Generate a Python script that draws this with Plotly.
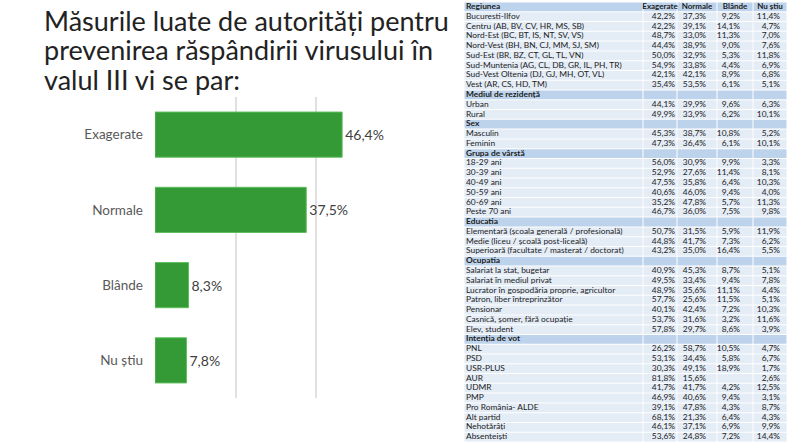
import plotly.graph_objects as go

# ---------------- Bar chart data ----------------
categories = ["Exagerate", "Normale", "Blânde", "Nu știu"]
values = [46.4, 37.5, 8.3, 7.8]
bar_labels = [f"{v:.1f}%".replace(".", ",") for v in values]

title_lines = ["Măsurile luate de autorități pentru",
               "prevenirea răspândirii virusului în",
               "valul III vi se par:"]

# ---------------- Table data ----------------
table_header = ["Regiunea", "Exagerate", "Normale", "Blânde", "Nu știu"]

row_labels = [
    "Bucuresti-Ilfov", "Centru (AB, BV, CV, HR, MS, SB)", "Nord-Est (BC, BT, IS, NT, SV, VS)",
    "Nord-Vest (BH, BN, CJ, MM, SJ, SM)", "Sud-Est (BR, BZ, CT, GL, TL, VN)",
    "Sud-Muntenia (AG, CL, DB, GR, IL, PH, TR)", "Sud-Vest Oltenia (DJ, GJ, MH, OT, VL)",
    "Vest (AR, CS, HD, TM)",
    "Mediul de rezidență", "Urban", "Rural",
    "Sex", "Masculin", "Feminin",
    "Grupa de vârstă", "18-29 ani", "30-39 ani", "40-49 ani", "50-59 ani", "60-69 ani", "Peste 70 ani",
    "Educatia", "Elementară (școala generală / profesională)", "Medie (liceu / școală post-liceală)",
    "Superioară (facultate / masterat / doctorat)",
    "Ocupatia", "Salariat la stat, bugetar", "Salariat în mediul privat",
    "Lucrator în gospodăria proprie, agricultor", "Patron, liber întreprinzător", "Pensionar",
    "Casnică, șomer, fără ocupație", "Elev, student",
    "Intenția de vot", "PNL", "PSD", "USR-PLUS", "AUR", "UDMR", "PMP", "Pro România- ALDE",
    "Alt partid", "Nehotărâți", "Absenteiști",
]
exagerate = [42.2, 42.2, 48.7, 44.4, 50.0, 54.9, 42.1, 35.4,
             None, 44.1, 49.9,
             None, 45.3, 47.3,
             None, 56.0, 52.9, 47.5, 40.6, 35.2, 46.7,
             None, 50.7, 44.8, 43.2,
             None, 40.9, 49.5, 48.9, 57.7, 40.1, 53.7, 57.8,
             None, 26.2, 53.1, 30.3, 81.8, 41.7, 46.9, 39.1, 68.1, 46.1, 53.6]
normale = [37.3, 39.1, 33.0, 38.9, 32.9, 33.8, 42.1, 53.5,
           None, 39.9, 33.9,
           None, 38.7, 36.4,
           None, 30.9, 27.6, 35.8, 46.0, 47.8, 36.0,
           None, 31.5, 41.7, 35.0,
           None, 45.3, 33.4, 35.6, 25.6, 42.4, 31.6, 29.7,
           None, 58.7, 34.4, 49.1, 15.6, 41.7, 40.6, 47.8, 21.3, 37.1, 24.8]
blande = [9.2, 14.1, 11.3, 9.0, 5.3, 4.4, 8.9, 6.1,
          None, 9.6, 6.2,
          None, 10.8, 6.1,
          None, 9.9, 11.4, 6.4, 9.4, 5.7, 7.5,
          None, 5.9, 7.3, 16.4,
          None, 8.7, 9.4, 11.1, 11.5, 7.2, 3.2, 8.6,
          None, 10.5, 5.8, 18.9, None, 4.2, 9.4, 4.3, 6.4, 6.9, 7.2]
nu_stiu = [11.4, 4.7, 7.0, 7.6, 11.8, 6.9, 6.8, 5.1,
           None, 6.3, 10.1,
           None, 5.2, 10.1,
           None, 3.3, 8.1, 10.3, 4.0, 11.3, 9.8,
           None, 11.9, 6.2, 5.5,
           None, 5.1, 7.8, 4.4, 5.1, 10.3, 11.6, 3.9,
           None, 4.7, 6.7, 1.7, 2.6, 12.5, 3.1, 8.7, 4.3, 9.9, 14.4]


def fmt(v):
    return "" if v is None else f"{v:.1f}%".replace(".", ",")


# ---------------- Styling / layout constants ----------------
FONT = "Lato"
W, H = 800, 446
HEAD_FILL = "#bdd3eb"
ROW_FILL = "#e4ecf6"
TXT = "#1c1c1c"

col_edges = [0, 179, 213, 253, 289, 323]          # table column edges (px inside table)
value_right = [211, 242, 276, 316]                 # right edge of value text per column

is_section = [True] + [e is None for e in exagerate]   # row 0 = header
n_rows = len(is_section)
row_idx = list(range(n_rows))
fills = [HEAD_FILL if s else ROW_FILL for s in is_section]

fig = go.Figure()

# main bar chart
fig.add_trace(go.Bar(
    x=values, y=categories, orientation="h",
    marker=dict(color="#349a35", line=dict(color="#5cbf5c", width=1)),
    width=0.6,
    text=bar_labels, textposition="outside", cliponaxis=False,
    textfont=dict(family=FONT, size=14, color="#404040"),
    hoverinfo="skip",
))

# table cell backgrounds
for c in range(5):
    x0, x1 = col_edges[c], col_edges[c + 1]
    fig.add_trace(go.Bar(
        y=row_idx, x=[x1 - x0 - 1] * n_rows, base=[x0 + 0.5] * n_rows,
        orientation="h", width=0.9,
        marker=dict(color=fills, line=dict(width=0)),
        xaxis="x2", yaxis="y2", hoverinfo="skip",
    ))

# label column text
label_text = ["<b>" + table_header[0] + "</b>"] + \
    [f"<b>{l}</b>" if s else l for l, s in zip(row_labels, is_section[1:])]
fig.add_trace(go.Scatter(
    x=[2] * n_rows, y=row_idx, mode="text", text=label_text,
    textposition="middle right", marker=dict(size=0),
    textfont=dict(family=FONT, size=8.4, color=TXT),
    xaxis="x2", yaxis="y2", hoverinfo="skip", cliponaxis=False,
))

# header text of value columns
fig.add_trace(go.Scatter(
    x=[(col_edges[c] + col_edges[c + 1]) / 2 for c in range(1, 5)], y=[0] * 4,
    mode="text", text=[f"<b>{h}</b>" for h in table_header[1:]],
    textposition="middle center", marker=dict(size=0),
    textfont=dict(family=FONT, size=8, color=TXT),
    xaxis="x2", yaxis="y2", hoverinfo="skip", cliponaxis=False,
))

# value columns text
for series, xr in zip([exagerate, normale, blande, nu_stiu], value_right):
    fig.add_trace(go.Scatter(
        x=[xr] * len(series), y=row_idx[1:], mode="text",
        text=[fmt(v) for v in series],
        textposition="middle left", marker=dict(size=0),
        textfont=dict(family=FONT, size=8.4, color=TXT),
        xaxis="x2", yaxis="y2", hoverinfo="skip", cliponaxis=False,
    ))

for i, line in enumerate(title_lines):
    fig.add_annotation(
        text=line, xref="paper", yref="paper",
        x=42 / W, y=1 - (20 + i * 29.7) / H, xanchor="left", yanchor="middle",
        showarrow=False, font=dict(family=FONT, size=27, color="#222222"),
    )

fig.update_layout(
    width=W, height=H,
    margin=dict(l=0, r=0, t=0, b=0),
    paper_bgcolor="white", plot_bgcolor="white",
    showlegend=False, barmode="overlay",
    xaxis=dict(domain=[155 / W, 397 / W], range=[0, 60], dtick=20,
               showticklabels=False, showgrid=True, gridcolor="#e0e0e0", gridwidth=1.5,
               zeroline=False, fixedrange=True),
    yaxis=dict(domain=[(H - 398) / H, (H - 97) / H], categoryorder="array",
               categoryarray=categories, autorange="reversed",
               tickfont=dict(family=FONT, size=13.5, color="#595959"),
               ticklabelstandoff=11, showgrid=False, zeroline=False, fixedrange=True),
    xaxis2=dict(domain=[464 / W, 787 / W], range=[0, 323], anchor="y2",
                visible=False, fixedrange=True),
    yaxis2=dict(domain=[4 / H, 444 / H], range=[n_rows - 0.5, -0.5], anchor="x2",
                visible=False, fixedrange=True),
)

fig.write_html("out.html", config={"displayModeBar": False},
               post_script="document.body.style.margin='0';")
